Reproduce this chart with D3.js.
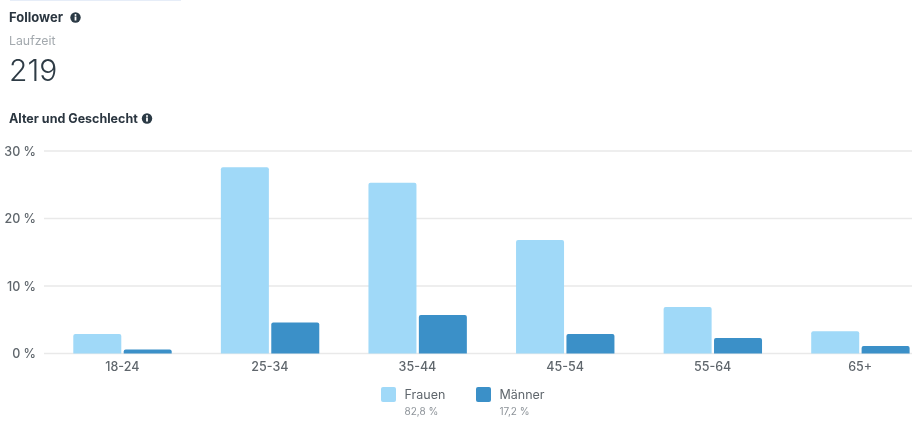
<!DOCTYPE html>
<html>
<head>
<meta charset="utf-8">
<script src="https://cdn.jsdelivr.net/npm/d3@7"></script>
<style>
  html, body { margin: 0; padding: 0; background: #fff; }
  svg { display: block; filter: blur(0.55px); font-family: Inter, Roboto, sans-serif; }
</style>
</head>
<body>
<div id="chart"></div>
<script>
const ageGroups = ["18-24", "25-34", "35-44", "45-54", "55-64", "65+"];
const seriesNames = ["Frauen", "Männer"];
const seriesShares = ["82,8 %", "17,2 %"];
const frauen = [2.9, 27.6, 25.3, 16.8, 6.9, 3.3];
const maenner = [0.6, 4.6, 5.7, 2.9, 2.3, 1.1];
const yTicks = [0, 10, 20, 30];
const colors = ["#a0d9f8", "#3b90c8"];

const width = 912, height = 428;
const svg = d3.select("#chart").append("svg").attr("width", width).attr("height", height);

// header
svg.append("rect").attr("x", 10).attr("y", 0).attr("width", 171).attr("height", 1).attr("fill", "#e6edf8");

function infoIcon(x, y) {
  const g = svg.append("g").attr("transform", `translate(${x},${y})`);
  g.append("circle").attr("r", 5.2).attr("fill", "#2b3a45");
  g.append("rect").attr("x", -0.9).attr("y", -1).attr("width", 1.8).attr("height", 4).attr("fill", "#fff");
  g.append("circle").attr("cy", -2.6).attr("r", 1).attr("fill", "#fff");
}

svg.append("text").attr("x", 9).attr("y", 21.5).attr("font-size", 13).attr("font-weight", 700)
  .attr("fill", "#2b3640").text("Follower");
infoIcon(75.5, 17.5);
svg.append("text").attr("x", 9).attr("y", 45).attr("font-size", 12.3).attr("fill", "#a3a9ae").text("Laufzeit");
svg.append("text").attr("x", 9).attr("y", 80.5).attr("font-size", 30).attr("font-weight", 300).attr("fill", "#2e3b45").text("219");
svg.append("text").attr("x", 9).attr("y", 123).attr("font-size", 12.5).attr("font-weight", 700)
  .attr("fill", "#2b3640").text("Alter und Geschlecht");
infoIcon(147, 118.5);

// scales
const x = d3.scaleBand().domain(ageGroups).range([48.5, 934]).padding(0);
const y = d3.scaleLinear().domain([0, 30]).range([353.5, 151]);

// grid
svg.append("g").selectAll("line").data(yTicks).join("line")
  .attr("x1", 44).attr("x2", 912)
  .attr("y1", d => y(d)).attr("y2", d => y(d))
  .attr("stroke", "#e9e9e9").attr("stroke-width", 1.5);

svg.append("g").selectAll("text").data(yTicks).join("text")
  .attr("x", 36).attr("y", d => y(d) + 4.5).attr("text-anchor", "end")
  .attr("font-size", 12.5).attr("font-weight", 500).attr("fill", "#5f666c").text(d => `${d} %`);

// bars
const rows = ageGroups.map((age, i) => ({ age, values: [frauen[i], maenner[i]] }));
const barW = 48;
const topRounded = (px, py, w, h, r) => {
  const rr = Math.min(r, h);
  return `M${px},${py + h}V${py + rr}Q${px},${py} ${px + rr},${py}H${px + w - rr}Q${px + w},${py} ${px + w},${py + rr}V${py + h}Z`;
};
const groups = svg.append("g").selectAll("g").data(rows).join("g");
groups.selectAll("path").data(d => d.values.map((v, i) => ({ age: d.age, v, i }))).join("path")
  .attr("d", d => {
    const c = x(d.age) + x.bandwidth() / 2;
    const px = d.i === 0 ? c - barW - 1 : c + 1.4;
    return topRounded(px, y(d.v), barW, y(0) - y(d.v), 2);
  })
  .attr("fill", d => colors[d.i]);

// x labels
svg.append("g").selectAll("text").data(ageGroups).join("text")
  .attr("x", d => x(d) + x.bandwidth() / 2).attr("y", 371).attr("text-anchor", "middle")
  .attr("font-size", 12.5).attr("font-weight", 500).attr("fill", "#5f666c").text(d => d);

// legend
const legendX = [381, 476];
const legend = svg.append("g").selectAll("g").data(seriesNames).join("g")
  .attr("transform", (d, i) => `translate(${legendX[i]},387)`);
legend.append("rect").attr("width", 15).attr("height", 15).attr("rx", 2).attr("fill", (d, i) => colors[i]);
legend.append("text").attr("x", 23.5).attr("y", 12).attr("font-size", 12.5).attr("fill", "#5f666c").text(d => d);
legend.append("text").attr("x", 23.5).attr("y", 28).attr("font-size", 10).attr("fill", "#8d9399").text((d, i) => seriesShares[i]);
</script>
</body>
</html>
